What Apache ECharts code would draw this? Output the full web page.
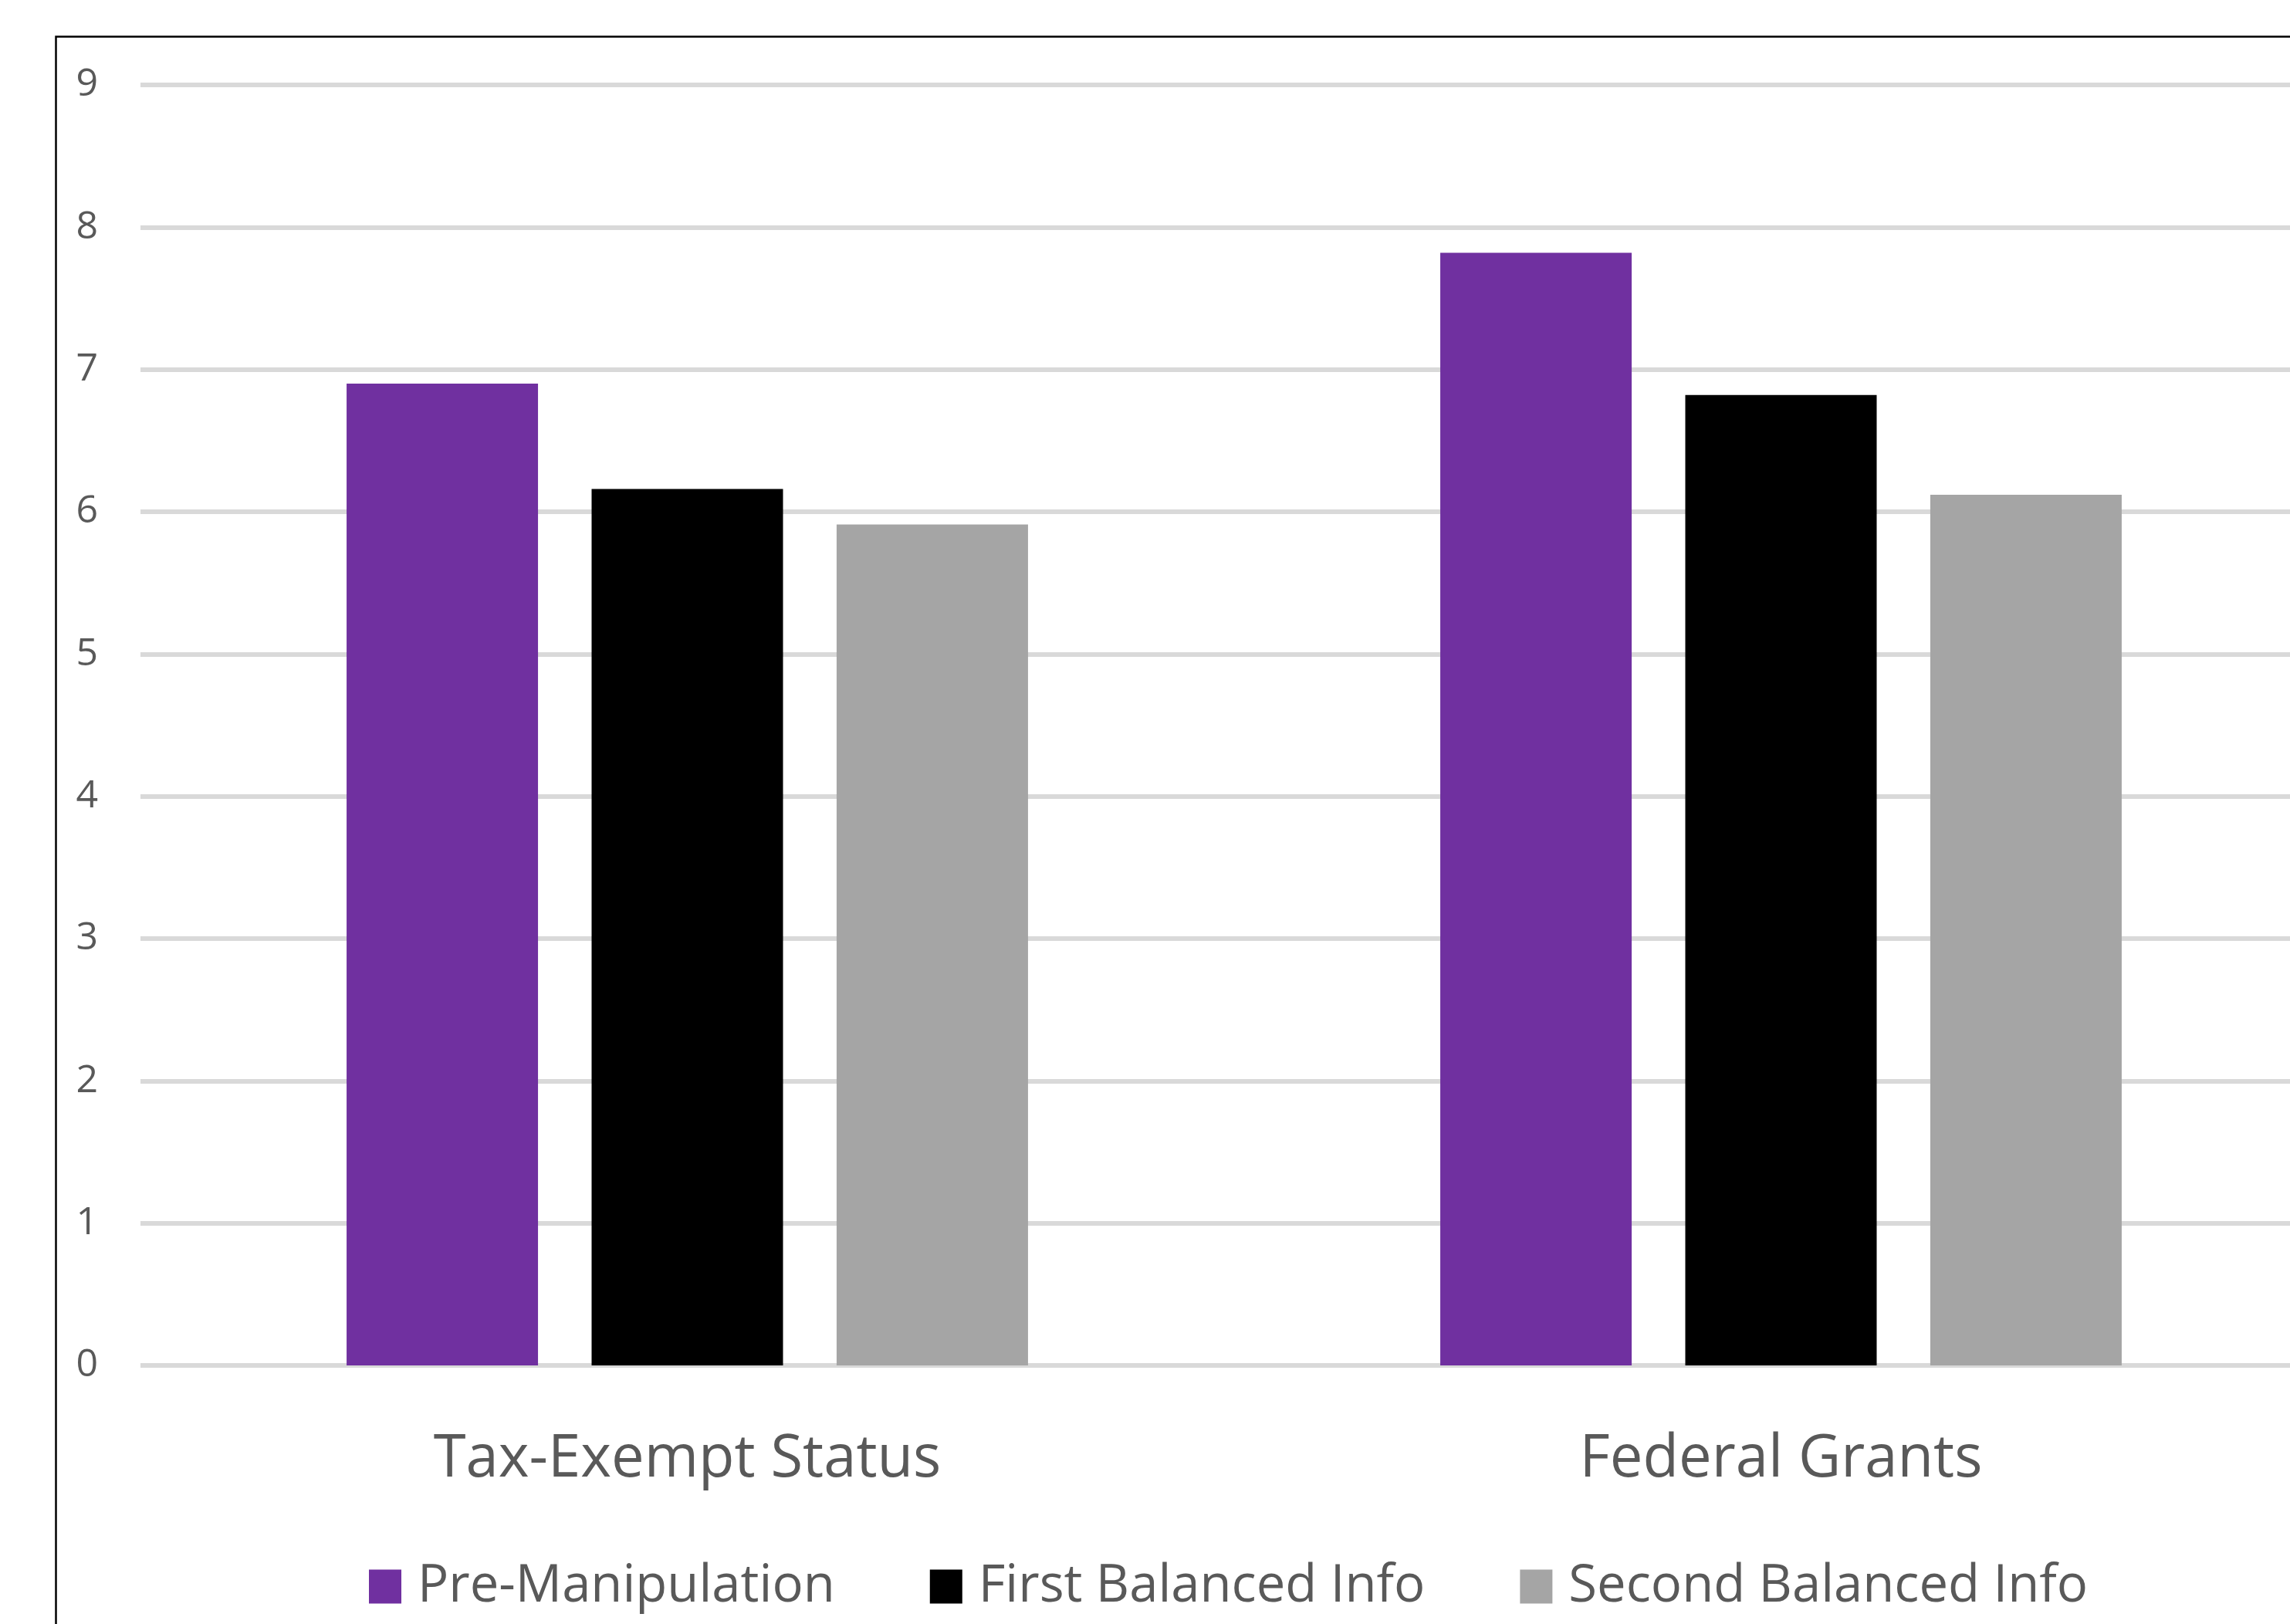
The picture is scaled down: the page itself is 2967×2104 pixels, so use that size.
<!DOCTYPE html>
<html>
<head>
<meta charset="utf-8">
<script src="https://cdn.jsdelivr.net/npm/echarts@6/dist/echarts.min.js"></script>
<style>
html,body{margin:0;padding:0;background:#fff;overflow:hidden;width:2967px;height:2104px;}
#chart{width:3060px;height:2104px;}
</style>
</head>
<body>
<div id="chart"></div>
<script>
const categories = ['Tax-Exempt Status', 'Federal Grants'];
const seriesNames = ['Pre-Manipulation', 'First Balanced Info', 'Second Balanced Info'];
const preManipulation = [6.90, 7.82];
const firstBalanced = [6.16, 6.82];
const secondBalanced = [5.91, 6.12];
const yTicks = [0, 1, 2, 3, 4, 5, 6, 7, 8, 9];

const colors = ['#7030a0', '#000000', '#a5a5a5'];
const values = [preManipulation, firstBalanced, secondBalanced];
const fontFamily = '"Open Sans", "Noto Sans", sans-serif';

const chart = echarts.init(document.getElementById('chart'), null, {renderer: 'canvas'});
chart.setOption({
  backgroundColor: '#ffffff',
  animation: false,
  color: colors,
  graphic: [{
    type: 'rect',
    left: 70, top: 45,
    shape: {width: 3100, height: 2200},
    style: {fill: 'none', stroke: '#000000', lineWidth: 2.5},
    silent: true
  }],
  legend: {
    left: 473,
    top: 2017,
    itemWidth: 42,
    itemHeight: 44,
    itemGap: 123,
    icon: 'rect',
    data: seriesNames,
    textStyle: {
      fontFamily: fontFamily,
      fontSize: 67,
      color: '#595959',
      padding: [0, 0, 0, 16]
    }
  },
  grid: {
    left: 182,
    top: 110,
    width: 2834,
    height: 1659,
    containLabel: false
  },
  xAxis: {
    type: 'category',
    data: categories,
    axisLine: {show: false},
    axisTick: {show: false},
    axisLabel: {
      fontFamily: fontFamily,
      fontSize: 76,
      color: '#595959',
      margin: 84
    }
  },
  yAxis: {
    type: 'value',
    min: 0,
    max: 9,
    interval: 1,
    axisLine: {show: false},
    axisTick: {show: false},
    axisLabel: {
      fontFamily: fontFamily,
      fontSize: 50,
      color: '#595959',
      margin: 55,
      formatter: function (v) { return yTicks.indexOf(v) >= 0 ? String(v) : ''; }
    },
    splitLine: {lineStyle: {color: '#d9d9d9', width: 6}}
  },
  series: seriesNames.map(function (name, i) {
    return {
      name: name,
      type: 'bar',
      data: values[i],
      barWidth: 248,
      barGap: '28%',
      itemStyle: {color: colors[i]}
    };
  })
});
</script>
</body>
</html>
